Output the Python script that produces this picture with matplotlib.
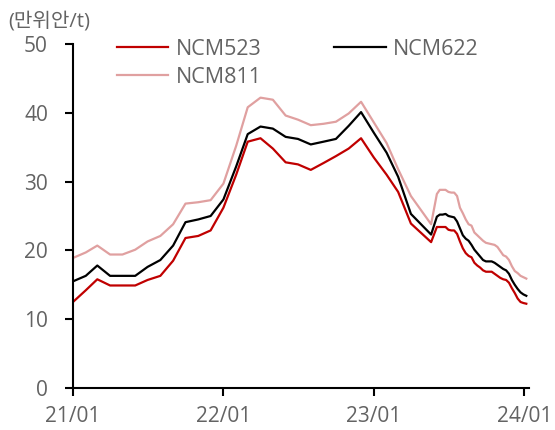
import matplotlib.pyplot as plt
import pandas as pd

plt.rcParams['font.family'] = ['Open Sans', 'Noto Sans CJK KR', 'DejaVu Sans']

# 월간 데이터 (21/01 ~ 23/04)
months = pd.date_range("2021-01-01", "2023-04-01", freq="MS")
ncm523_m = [12.5, 14.2, 15.8, 14.9, 14.9, 14.9, 15.7, 16.3, 18.5, 21.8, 22.1, 22.9,
            26.2, 31.0, 35.8, 36.3, 34.8, 32.8, 32.5, 31.7, 32.7, 33.7, 34.8, 36.3,
            33.5, 31.0, 28.5, 23.9]
ncm622_m = [15.5, 16.3, 17.8, 16.3, 16.3, 16.3, 17.6, 18.6, 20.7, 24.1, 24.5, 25.0,
            27.4, 32.2, 36.9, 38.0, 37.7, 36.5, 36.2, 35.4, 35.8, 36.2, 38.1, 40.1,
            37.1, 34.2, 30.7, 25.3]
ncm811_m = [18.9, 19.7, 20.7, 19.4, 19.4, 20.1, 21.3, 22.1, 23.8, 26.8, 27.0, 27.3,
            29.7, 35.2, 40.8, 42.2, 41.9, 39.6, 39.0, 38.2, 38.4, 38.7, 39.9, 41.6,
            38.6, 35.6, 31.8, 27.9]

# 주간 데이터 (23/05 하순 ~ 24/01)
weeks = pd.date_range("2023-05-20", periods=34, freq="7D")
ncm523_w = [21.2, 22.3, 23.4, 23.4, 23.4, 23.4, 23.0, 22.9, 22.9, 22.4, 21.3, 20.3,
            19.6, 19.2, 19.0, 18.2, 17.8, 17.5, 17.1, 16.9, 16.9, 16.9, 16.6, 16.3,
            16.0, 15.8, 15.7, 15.3, 14.5, 13.8, 13.0, 12.5, 12.35, 12.25]
ncm622_w = [22.3, 23.6, 24.9, 25.2, 25.2, 25.3, 25.0, 24.9, 24.8, 24.2, 23.2, 22.2,
            21.7, 21.4, 20.8, 20.1, 19.6, 19.1, 18.6, 18.4, 18.4, 18.4, 18.2, 17.9,
            17.6, 17.3, 17.1, 16.6, 15.7, 15.0, 14.4, 13.9, 13.6, 13.4]
ncm811_w = [23.8, 26.0, 28.2, 28.8, 28.8, 28.8, 28.5, 28.4, 28.4, 27.9, 26.2, 25.4,
            24.5, 23.8, 23.6, 22.6, 22.2, 21.8, 21.4, 21.1, 21.0, 20.9, 20.8, 20.5,
            19.9, 19.3, 19.1, 18.6, 17.7, 17.0, 16.7, 16.3, 16.1, 15.9]

dates = list(months) + list(weeks)
ncm523 = ncm523_m + ncm523_w
ncm622 = ncm622_m + ncm622_w
ncm811 = ncm811_m + ncm811_w

xticks = pd.to_datetime(["2021-01-01", "2022-01-01", "2023-01-01", "2024-01-01"])
xticklabels = ["21/01", "22/01", "23/01", "24/01"]

gray = "#636363"

fig = plt.figure(figsize=(5.55, 4.30), dpi=100)
ax = fig.add_axes([0.1315, 0.0977, 0.822, 0.80])

ax.plot(dates, ncm523, color="#C00000", lw=1.6, label="NCM523")
ax.plot(dates, ncm811, color="#E0A0A0", lw=1.6, label="NCM811")
ax.plot(dates, ncm622, color="black", lw=1.6, label="NCM622")

ax.set_ylim(0, 50)
ax.set_yticks([0, 10, 20, 30, 40, 50])
ax.set_xlim(pd.Timestamp("2021-01-01"), pd.Timestamp("2024-01-13"))
ax.set_xticks(xticks)
ax.set_xticklabels(xticklabels)

for s in ["top", "right"]:
    ax.spines[s].set_visible(False)
for s in ["left", "bottom"]:
    ax.spines[s].set_linewidth(1.5)
ax.tick_params(axis="both", direction="out", length=6, width=1.5,
               labelsize=15, labelcolor=gray)
ax.tick_params(axis="y", pad=12)
ax.tick_params(axis="x", pad=7)

fig.text(0.014, 0.951, "(만위안/t)", fontsize=14.5, color=gray, va="center", ha="left")

leg = ax.legend(loc="upper left", bbox_to_anchor=(0.21, 0.91),
                bbox_transform=fig.transFigure, ncol=2, frameon=False,
                fontsize=15.5, handlelength=2.4, handletextpad=0.35,
                columnspacing=3.35, labelspacing=0.32, borderpad=0, borderaxespad=0)
for t in leg.get_texts():
    t.set_color(gray)

fig.savefig("out.png", dpi=100)
